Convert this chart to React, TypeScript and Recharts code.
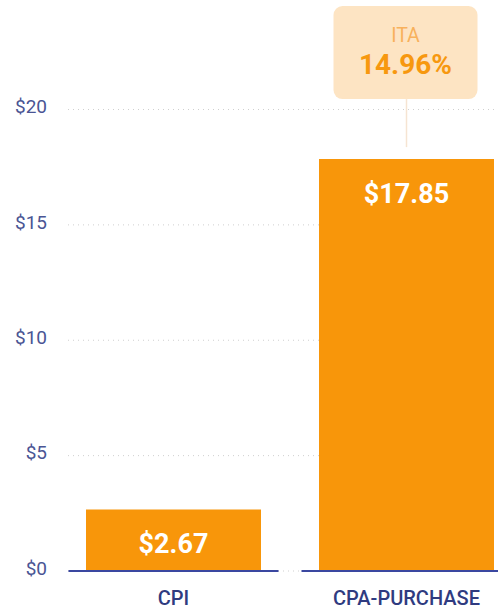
import React from "react";
import { BarChart, Bar, XAxis, YAxis, CartesianGrid, LabelList } from "recharts";

const categories = ["CPI", "CPA-PURCHASE"];
const costs = [2.67, 17.85];
const calloutTitles = ["", "ITA"];
const calloutValues = ["", "14.96%"];
const yTicks = [0, 5, 10, 15, 20];

const BAR_COLOR = "#f8960a";
const NAVY = "#2f3b80";
const TICK_COLOR = "#4a5594";
const FONT = "Roboto, 'Noto Sans', sans-serif";

const data = categories.map((name, i) => ({
  name,
  cost: costs[i],
  title: calloutTitles[i],
  extra: calloutValues[i],
}));

const money = (v: number) => `$${v.toFixed(2)}`;

function CategoryTick(props: any) {
  const { x, y, payload } = props;
  return (
    <g>
      <line x1={x - 105} x2={x + 105} y1={y} y2={y} stroke="#3a47a0" strokeWidth={2} />
      <text
        x={x}
        y={y + 34}
        textAnchor="middle"
        fill={NAVY}
        fontFamily={FONT}
        fontWeight={500}
        fontSize={20}
      >
        {payload.value}
      </text>
    </g>
  );
}

function BarLabel(props: any) {
  const { x, y, width, value, index } = props;
  const cx = x + width / 2;
  const row = data[index];
  return (
    <g>
      <text
        x={cx}
        y={y + 44}
        textAnchor="middle"
        fill="#ffffff"
        fontFamily={FONT}
        fontWeight={700}
        fontSize={27}
      >
        {money(Number(value))}
      </text>
      {row && row.extra ? (
        <g>
          <line x1={cx} x2={cx} y1={y - 60} y2={y - 12} stroke="#f6e4d2" strokeWidth={1.5} />
          <rect x={cx - 73} y={y - 153} width={144} height={93} rx={9} fill="#fde4c3" />
          <text
            x={cx - 1}
            y={y - 117}
            textAnchor="middle"
            fill="#f8b15c"
            fontFamily={FONT}
            fontSize={19.5}
          >
            {row.title}
          </text>
          <text
            x={cx - 1}
            y={y - 85}
            textAnchor="middle"
            fill="#f7980f"
            fontFamily={FONT}
            fontWeight={700}
            fontSize={28}
          >
            {row.extra}
          </text>
        </g>
      ) : null}
    </g>
  );
}

function GridLine(props: any) {
  const { x1, x2, y1, y2, index } = props;
  return (
    <line
      key={`h-${index}-${y1}`}
      x1={x1 + 11}
      x2={x2}
      y1={y1}
      y2={y2}
      stroke="#cfcfcf"
      strokeDasharray="1 4"
      strokeWidth={1}
    />
  );
}

export default function App() {
  return (
    <div
      style={{
        position: "absolute",
        left: 0,
        top: 0,
        width: 498,
        height: 608,
        overflow: "hidden",
        background: "#ffffff",
      }}
    >
      <BarChart
        width={530}
        height={608}
        data={data}
        margin={{ top: 109.5, right: 7, left: 0, bottom: 0 }}
        barCategoryGap={29}
      >
        <CartesianGrid vertical={false} horizontal={GridLine as any} />
        <XAxis
          dataKey="name"
          axisLine={false}
          tickLine={false}
          tickSize={0}
          tickMargin={0}
          height={37}
          interval={0}
          tick={<CategoryTick />}
        />
        <YAxis
          width={57}
          domain={[0, 20]}
          ticks={yTicks}
          axisLine={false}
          tickLine={false}
          tickSize={0}
          tickMargin={10}
          tickFormatter={(v) => `$${v}`}
          tick={{ fill: TICK_COLOR, fontSize: 19, fontFamily: FONT, dy: -3 }}
        />
        <Bar dataKey="cost" fill={BAR_COLOR} barSize={175} isAnimationActive={false}>
          <LabelList dataKey="cost" content={<BarLabel />} />
        </Bar>
      </BarChart>
    </div>
  );
}
